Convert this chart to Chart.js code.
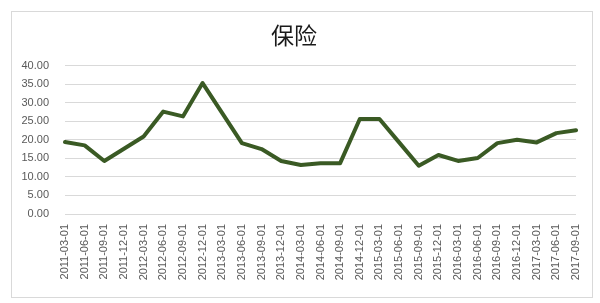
<!DOCTYPE html>
<html>
<head>
<meta charset="utf-8">
<script src="https://cdn.jsdelivr.net/npm/chart.js@4"></script>
<style>
  body { margin: 0; background: #fff; }
  #box {
    position: absolute;
    left: 11px;
    top: 11px;
    width: 580px;
    height: 285px;
    border: 1px solid #d9d9d9;
  }
</style>
</head>
<body>
<div id="box"><canvas id="chart" width="580" height="285"></canvas></div>
<script>
const dates = [
  "2011-03-01", "2011-06-01", "2011-09-01", "2011-12-01",
  "2012-03-01", "2012-06-01", "2012-09-01", "2012-12-01",
  "2013-03-01", "2013-06-01", "2013-09-01", "2013-12-01",
  "2014-03-01", "2014-06-01", "2014-09-01", "2014-12-01",
  "2015-03-01", "2015-06-01", "2015-09-01", "2015-12-01",
  "2016-03-01", "2016-06-01", "2016-09-01", "2016-12-01",
  "2017-03-01", "2017-06-01", "2017-09-01"
];
const insurance = [
  19.4, 18.5, 14.3, 17.6,
  20.9, 27.6, 26.3, 35.3,
  27.2, 19.1, 17.5, 14.3,
  13.2, 13.7, 13.7, 25.6,
  25.6, 19.3, 13.0, 15.9,
  14.3, 15.1, 19.1, 20.0,
  19.3, 21.8, 22.6
];
const yMin = 0;
const yMax = 40;
const yStep = 5;

const ctx = document.getElementById("chart").getContext("2d");

new Chart(ctx, {
  type: "line",
  data: {
    labels: dates,
    datasets: [{
      label: "保险",
      data: insurance,
      borderColor: "#3a5a24",
      borderWidth: 4,
      pointRadius: 0,
      tension: 0,
      borderJoinStyle: "round",
      borderCapStyle: "round",
      fill: false
    }]
  },
  options: {
    responsive: false,
    animation: false,
    layout: {
      padding: { left: 0, right: 16, top: 0, bottom: 0 }
    },
    plugins: {
      legend: { display: false },
      tooltip: { enabled: false },
      title: {
        display: true,
        text: "保险",
        color: "#1a1a1a",
        font: { family: "'Noto Sans CJK SC'", size: 23, weight: "normal", lineHeight: 1.2 },
        padding: { top: 9, bottom: 17 }
      }
    },
    scales: {
      x: {
        offset: false,
        grid: { display: false, drawTicks: false },
        border: { display: false },
        ticks: {
          color: "#595959",
          font: { family: "'Liberation Sans'", size: 11 },
          padding: 10,
          minRotation: 90,
          maxRotation: 90,
          autoSkip: false
        },
        afterFit: scale => {
          scale.height = 83;
          scale.paddingLeft = 0;
          scale.paddingRight = 0;
        }
      },
      y: {
        min: yMin,
        max: yMax,
        grid: { color: "#d9d9d9", lineWidth: 1, drawTicks: false },
        border: { display: false },
        ticks: {
          stepSize: yStep,
          color: "#595959",
          font: { family: "'Liberation Sans'", size: 11 },
          padding: 16,
          callback: v => v.toFixed(2)
        },
        afterFit: scale => { scale.width = 53; }
      }
    }
  }
});
</script>
</body>
</html>
